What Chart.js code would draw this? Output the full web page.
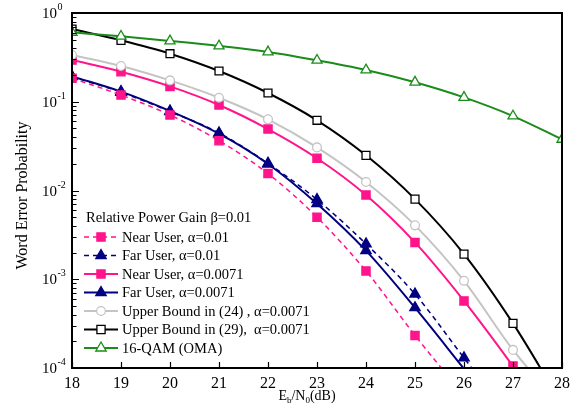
<!DOCTYPE html>
<html>
<head>
<meta charset="utf-8">
<script src="https://cdn.jsdelivr.net/npm/chart.js@4/dist/chart.umd.min.js"></script>
<style>
html,body{margin:0;padding:0;background:#fff;}
#wrap{position:relative;width:586px;height:420px;}
</style>
</head>
<body>
<div id="wrap"><canvas id="c" width="586" height="420"></canvas></div>
<script>
// ---- data ----
const ebn0 = [18, 19, 20, 21, 22, 23, 24, 25, 26, 27, 28];
const nearUserA01   = [0.184, 0.119, 0.071, 0.0364, 0.0155, 0.0050, 0.00124, 0.000233, 0.000049];
const farUserA01    = [0.192, 0.128, 0.0775, 0.0445, 0.0202, 0.0079, 0.0025, 0.00068, 0.00013, 0.000025];
const nearUserA0071 = [0.295, 0.218, 0.149, 0.092, 0.0493, 0.0231, 0.0089, 0.0026, 0.00057, 0.000105, 0.000018];
const farUserA0071  = [0.193, 0.130, 0.0787, 0.0437, 0.0199, 0.0071, 0.0021, 0.000478, 0.000098];
const upperBound24  = [0.336, 0.253, 0.174, 0.111, 0.0634, 0.0306, 0.01247, 0.00405, 0.00096, 0.00016, 0.000036];
const upperBound29  = [0.66, 0.492, 0.348, 0.222, 0.1255, 0.0618, 0.0249, 0.0080, 0.00192, 0.000318, 0.000039];
const qam16OMA      = [0.605, 0.546, 0.484, 0.425, 0.364, 0.293, 0.228, 0.166, 0.112, 0.069, 0.0377];
const xTicks = [18, 19, 20, 21, 22, 23, 24, 25, 26, 27, 28];
const yTickExps = [0, -1, -2, -3, -4];
const legendTitle = 'Relative Power Gain \u03B2=0.01';
const labels = [
  'Near User, \u03B1=0.01',
  'Far User, \u03B1=0.01',
  'Near User, \u03B1=0.0071',
  'Far User, \u03B1=0.0071',
  'Upper Bound in (24) , \u03B1=0.0071',
  'Upper Bound in (29),  \u03B1=0.0071',
  '16-QAM (OMA)'
];
const xTitle = ['E', 'b', '/N', '0', '(dB)'];
const yTitle = 'Word Error Probability';

const PINK = '#ff148c', NAVY = '#000080', GRAY = '#c4c4c4', GREEN = '#1a8c1a', BLACK = '#000000';
const FONT = '"Liberation Serif", "Times New Roman", serif';

function pts(arr){ return arr.map((v,i)=>({x: ebn0[i], y: v})); }

function ds(label, arr, color, style, fill, dashed, r){
  return {
    label, data: pts(arr),
    borderColor: color, backgroundColor: fill,
    borderWidth: dashed ? 1.5 : 2,
    borderDash: dashed ? [5,4] : [],
    pointStyle: style,
    pointBorderColor: color,
    pointBackgroundColor: fill,
    pointBorderWidth: 1.3,
    pointRadius: ctx => (ctx.raw && ctx.raw.y < 1e-4) ? 0 : r,
    pointHoverRadius: 0,
    cubicInterpolationMode: 'monotone',
    fill: false,
    _dashed: dashed
  };
}

const datasets = [
  ds(labels[6], qam16OMA, GREEN, 'triangle', '#ffffff', false, 5.8),
  ds(labels[5], upperBound29, BLACK, 'rect', '#ffffff', false, 5.6),
  ds(labels[4], upperBound24, GRAY, 'circle', '#ffffff', false, 4.4),
  ds(labels[2], nearUserA0071, PINK, 'rect', PINK, false, 5.8),
  ds(labels[0], nearUserA01, PINK, 'rect', PINK, true, 5.8),
  ds(labels[3], farUserA0071, NAVY, 'triangle', NAVY, false, 6),
  ds(labels[1], farUserA01, NAVY, 'triangle', NAVY, true, 6)
];

function drawMarker(ctx, style, x, y, r, stroke, fill){
  ctx.save();
  ctx.beginPath();
  if (style === 'rect'){
    const s = Math.SQRT1_2 * r;
    ctx.rect(x - s, y - s, 2*s, 2*s);
  } else if (style === 'triangle'){
    ctx.moveTo(x, y - r);
    ctx.lineTo(x + r*Math.sin(Math.PI/3), y + r*0.5);
    ctx.lineTo(x - r*Math.sin(Math.PI/3), y + r*0.5);
    ctx.closePath();
  } else {
    ctx.arc(x, y, r, 0, Math.PI*2);
  }
  ctx.fillStyle = fill; ctx.fill();
  ctx.strokeStyle = stroke; ctx.lineWidth = 1.3; ctx.setLineDash([]); ctx.stroke();
  ctx.restore();
}

const decor = {
  id: 'decor',
  afterDatasetsDraw(chart){
    const ctx = chart.ctx, a = chart.chartArea;
    const xs = chart.scales.x, ys = chart.scales.y;
    ctx.save();
    // frame
    ctx.strokeStyle = '#000'; ctx.lineWidth = 2; ctx.setLineDash([]);
    ctx.strokeRect(a.left, a.top, a.right - a.left, a.bottom - a.top);
    // x ticks inward
    ctx.lineWidth = 1.2;
    ctx.beginPath();
    xTicks.forEach(v => {
      const px = Math.round(xs.getPixelForValue(v)) + 0.5;
      ctx.moveTo(px, a.bottom); ctx.lineTo(px, a.bottom - 6);
    });
    // y ticks inward (major + minor)
    for (let e = -4; e <= 0; e++){
      for (let m = 1; m <= 9; m++){
        const v = m * Math.pow(10, e);
        if (v > 1 + 1e-9) break;
        const py = Math.round(ys.getPixelForValue(v)) + 0.5;
        const len = m === 1 ? 7 : 4.5;
        ctx.moveTo(a.left, py); ctx.lineTo(a.left + len, py);
      }
    }
    ctx.stroke();
    // x tick labels
    ctx.fillStyle = '#000';
    ctx.font = '16px ' + FONT;
    ctx.textAlign = 'center'; ctx.textBaseline = 'alphabetic';
    xTicks.forEach(v => ctx.fillText(String(v), xs.getPixelForValue(v), a.bottom + 20));
    // y tick labels
    yTickExps.forEach(e => {
      const py = ys.getPixelForValue(Math.pow(10, e));
      ctx.font = '15px ' + FONT;
      ctx.textAlign = 'right';
      ctx.fillText('10', 57, py + 5);
      ctx.font = '10px ' + FONT;
      ctx.textAlign = 'left';
      ctx.fillText(e === 0 ? '0' : '-' + Math.abs(e), 57.5, py - 3);
    });
    // y title
    ctx.save();
    ctx.translate(27, (a.top + a.bottom)/2 + 5);
    ctx.rotate(-Math.PI/2);
    ctx.font = '16px ' + FONT;
    ctx.textAlign = 'center';
    ctx.fillText(yTitle, 0, 0);
    ctx.restore();
    // x title with subscripts
    const big = '14px ' + FONT, small = '9px ' + FONT;
    const parts = [[xTitle[0], big, 0], [xTitle[1], small, 3], [xTitle[2], big, 0], [xTitle[3], small, 3], [xTitle[4], big, 0]];
    let total = 0;
    parts.forEach(p => { ctx.font = p[1]; total += ctx.measureText(p[0]).width; });
    let cx = 307 - total/2;
    ctx.textAlign = 'left';
    parts.forEach(p => { ctx.font = p[1]; ctx.fillText(p[0], cx, 400 + p[2]); cx += ctx.measureText(p[0]).width; });
    // legend
    ctx.font = '14.5px ' + FONT;
    ctx.textBaseline = 'middle';
    ctx.fillText(legendTitle, 86, 218);
    const order = [4, 6, 3, 5, 2, 1, 0];
    order.forEach((di, i) => {
      const d = datasets[di];
      const y = 237 + i * 18.5;
      ctx.save();
      ctx.strokeStyle = d.borderColor; ctx.lineWidth = d.borderWidth;
      ctx.setLineDash(d._dashed ? [5,4] : []);
      ctx.beginPath(); ctx.moveTo(84, y); ctx.lineTo(118, y); ctx.stroke();
      ctx.restore();
      const r = d.pointStyle === 'circle' ? 4.4 : (d.pointStyle === 'rect' ? 5.8 : 6);
      drawMarker(ctx, d.pointStyle, 101, y, r, d.pointBorderColor, d.pointBackgroundColor);
      ctx.fillStyle = '#000';
      ctx.font = '14.5px ' + FONT;
      ctx.textAlign = 'left';
      ctx.fillText(d.label, 122, y + 1);
    });
    ctx.restore();
  }
};

new Chart(document.getElementById('c'), {
  type: 'line',
  data: { datasets },
  options: {
    responsive: false,
    animation: false,
    devicePixelRatio: 1,
    layout: { padding: { top: 13, right: 24, left: 0, bottom: 0 } },
    plugins: { legend: { display: false }, tooltip: { enabled: false } },
    scales: {
      x: {
        type: 'linear', min: 18, max: 28,
        grid: { display: false }, border: { display: false },
        ticks: { display: false },
        afterFit: s => { s.height = 52; }
      },
      y: {
        type: 'logarithmic', min: 1e-4, max: 1,
        grid: { display: false }, border: { display: false },
        ticks: { display: false },
        afterFit: s => { s.width = 72; }
      }
    }
  },
  plugins: [decor]
});
</script>
</body>
</html>
